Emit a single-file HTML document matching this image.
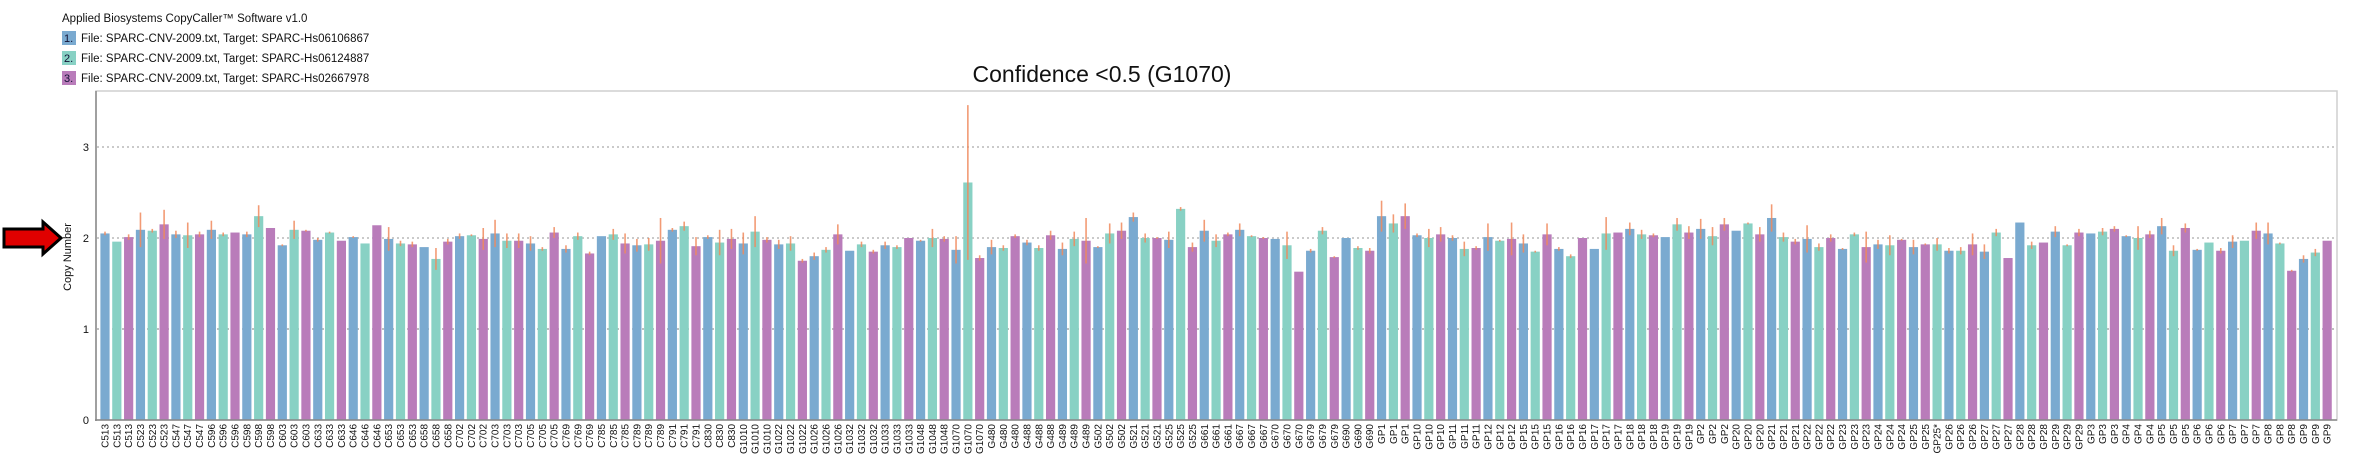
<!DOCTYPE html>
<html><head><meta charset="utf-8"><style>
html,body{margin:0;padding:0;background:#fff;}
svg{display:block;font-family:"Liberation Sans",Arial,sans-serif;}
</style></head><body>
<svg id="chart" width="2362" height="471" viewBox="0 0 2362 471" xmlns="http://www.w3.org/2000/svg">
<text x="62" y="22" font-size="11.5" fill="#111">Applied Biosystems CopyCaller™ Software v1.0</text>
<g>
<g><rect x="62" y="31" width="14" height="14" fill="#7aaad0"/><text x="64" y="42" font-size="11" fill="#113">1.</text><text x="81" y="42" font-size="11.5" fill="#111">File: SPARC-CNV-2009.txt, Target: SPARC-Hs06106867</text></g>
<g><rect x="62" y="51" width="14" height="14" fill="#88d1c4"/><text x="64" y="62" font-size="11" fill="#113">2.</text><text x="81" y="62" font-size="11.5" fill="#111">File: SPARC-CNV-2009.txt, Target: SPARC-Hs06124887</text></g>
<g><rect x="62" y="71" width="14" height="14" fill="#b97cba"/><text x="64" y="82" font-size="11" fill="#113">3.</text><text x="81" y="82" font-size="11.5" fill="#111">File: SPARC-CNV-2009.txt, Target: SPARC-Hs02667978</text></g>
</g>
<text x="1102" y="82" font-size="23" text-anchor="middle" fill="#111">Confidence &lt;0.5 (G1070)</text>
<rect x="96" y="91" width="2241" height="329" fill="none" stroke="#cfcfcf" stroke-width="1.5"/>
<g id="grid"></g>
<g id="bars"></g>
<g id="xlabels"></g>
<line x1="96" y1="91" x2="96" y2="421" stroke="#888" stroke-width="1.5"/>
<line x1="95" y1="420" x2="2337" y2="420" stroke="#888" stroke-width="1.5"/>
<text transform="translate(71,257) rotate(-90)" font-size="11" text-anchor="middle" fill="#111">Copy Number</text>
<path d="M4,229 L43,229 L43,222 L61,238 L43,254 L43,247 L4,247 Z" fill="#e00000" stroke="#000" stroke-width="3" stroke-linejoin="miter"/>
</svg>
<script>
const groups=["C513","C523","C547","C596","C598","C603","C633","C646","C653","C658","C702","C703","C705","C769","C785","C789","C791","C830","G1010","G1022","G1026","G1032","G1033","G1048","G1070","G480","G488","G489","G502","G521","G525","G661","G667","G670","G679","G690","GP1","GP10","GP11","GP12","GP15","GP16","GP17","GP18","GP19","GP2","GP20","GP21","GP22","GP23","GP24","GP25","GP26","GP27","GP28","GP29","GP3","GP4","GP5","GP6","GP7","GP8","GP9"];
const values=[2.05,1.96,2.01, 2.09,2.08,2.15, 2.04,2.03,2.04, 2.09,2.04,2.06, 2.04,2.24,2.11, 1.92,2.09,2.08, 1.98,2.06,1.97, 2.01,1.94,2.14, 1.99,1.94,1.93, 1.90,1.77,1.96,
2.02,2.03,1.99, 2.05,1.97,1.97, 1.94,1.88,2.06, 1.88,2.02,1.83, 2.02,2.04,1.94, 1.92,1.93,1.97, 2.09,2.13,1.91, 2.01,1.95,1.99, 1.94,2.07,1.98, 1.93,1.94,1.75, 1.80,1.87,2.04,
1.86,1.93,1.85, 1.92,1.90,2.00, 1.97,2.00,1.99, 1.87,2.61,1.78, 1.90,1.89,2.02, 1.95,1.89,2.03, 1.88,1.99,1.97, 1.90,2.05,2.08, 2.23,2.00,2.00, 1.98,2.32,1.90, 2.08,1.97,2.04,
2.09,2.02,2.00, 1.99,1.92,1.63, 1.86,2.08,1.79, 2.00,1.89,1.86, 2.24,2.16,2.24, 2.03,2.00,2.04, 2.00,1.88,1.89, 2.01,1.97,1.99, 1.94,1.85,2.04, 1.88,1.80,2.00, 1.88,2.05,2.06,
2.10,2.04,2.03, 2.01,2.15,2.06, 2.10,2.02,2.15, 2.08,2.16,2.04, 2.22,2.01,1.96, 1.99,1.90,2.00, 1.88,2.04,1.90, 1.93,1.92,1.98, 1.90,1.93,1.93, 1.86,1.86,1.93, 1.85,2.06,1.78,
2.17,1.92,1.95, 2.07,1.92,2.06, 2.05,2.07,2.10, 2.02,2.00,2.04, 2.13,1.86,2.11, 1.87,1.95,1.86, 1.96,1.97,2.08, 2.05,1.94,1.64, 1.77,1.84,1.97];
const errors=[.02,0,.03, .19,.02,.16, .04,.14,.03, .1,.02,0, .03,.12,0, .01,.1,.01, .02,.01,0, .01,0,0, .13,.03,.03, 0,.12,.03,
.03,.01,.12, .15,.08,.08, .08,.02,.06, .04,.04,.02, 0,.06,.11, .07,.07,.25, .02,.05,.1, .02,.14,.11, .12,.17,.03, .05,.08,.02, .04,.03,.11,
0,.03,.02, .04,.02,0, .01,.1,.03, .15,.85,.03, .08,.03,.02, .03,.03,.05, .07,.08,.25, .01,.11,.09, .05,.05,.01, .09,.02,.05, .12,.07,.02,
.07,.01,.01, 0,.15,0, .02,.04,.01, 0,.02,.03, .17,.1,.14, .02,.1,.08, .03,.08,.02, .15,.01,.18, .1,.01,.12, .02,.02,0, 0,.18,0,
.07,.05,.02, 0,.07,.07, .11,.1,.07, 0,.01,.08, .15,.05,.03, .15,.04,.04, .01,.02,.17, .05,.11,.01, .08,.01,.07, .03,.04,.12, .08,.04,0,
0,.04,0, .06,.01,.04, 0,.04,.03, .01,.13,.04, .09,.06,.05, .01,0,.03, .07,0,.09, .12,.01,.01, .04,.04,0];
const seriesOrder=[0,1,2];
const yTicks=[0,1,2,3];
const colors=["#7aaad0","#88d1c4","#b97cba"];
const NS="http://www.w3.org/2000/svg";
const y=v=>420-v*91;
const x0=105,pitch=11.82,bw=9.2;
const xc=i=>x0+i*pitch;
function mk(tag,attrs,parent){const e=document.createElementNS(NS,tag);for(const k in attrs)e.setAttribute(k,attrs[k]);parent.appendChild(e);return e;}
const grid=document.getElementById('grid');
yTicks.forEach(t=>{
  if(t>0){const l=mk('line',{x1:97,x2:2336,y1:y(t),y2:y(t),stroke:t===1?'#999':'#aaa','stroke-width':1.2,'stroke-dasharray':'2,3'},grid);
  
  }
  const tx=mk('text',{x:89,y:y(t)+4,'font-size':11,'text-anchor':'end',fill:'#111'},grid);
  tx.textContent=t;
  
  
});
const bars=document.getElementById('bars'),xl=document.getElementById('xlabels');
groups.forEach((g,gi)=>{
  for(let k=0;k<3;k++){
    const i=gi*3+k;
    let s=seriesOrder[k];
    let lab=g;
    if(g==="GP25"){s=[0,2,1][k];if(k===2)lab="GP25*";}
    const v=values[i],e=errors[i];
    const r=mk('rect',{x:xc(i)-bw/2,y:y(v),width:bw,height:y(0)-y(v),fill:colors[s]},bars);
    
    
    if(e>0){const l=mk('line',{x1:xc(i),x2:xc(i),y1:y(v+e),y2:y(v-e),stroke:'#f08a5d','stroke-width':1.6,opacity:0.85},bars);
      
      }
    const t=mk('text',{transform:'translate('+(xc(i)+3.5)+',424) rotate(-90)','font-size':10,'text-anchor':'end',fill:'#111'},xl);
    t.textContent=lab;
    
    
  }
});
</script>
</body></html>
